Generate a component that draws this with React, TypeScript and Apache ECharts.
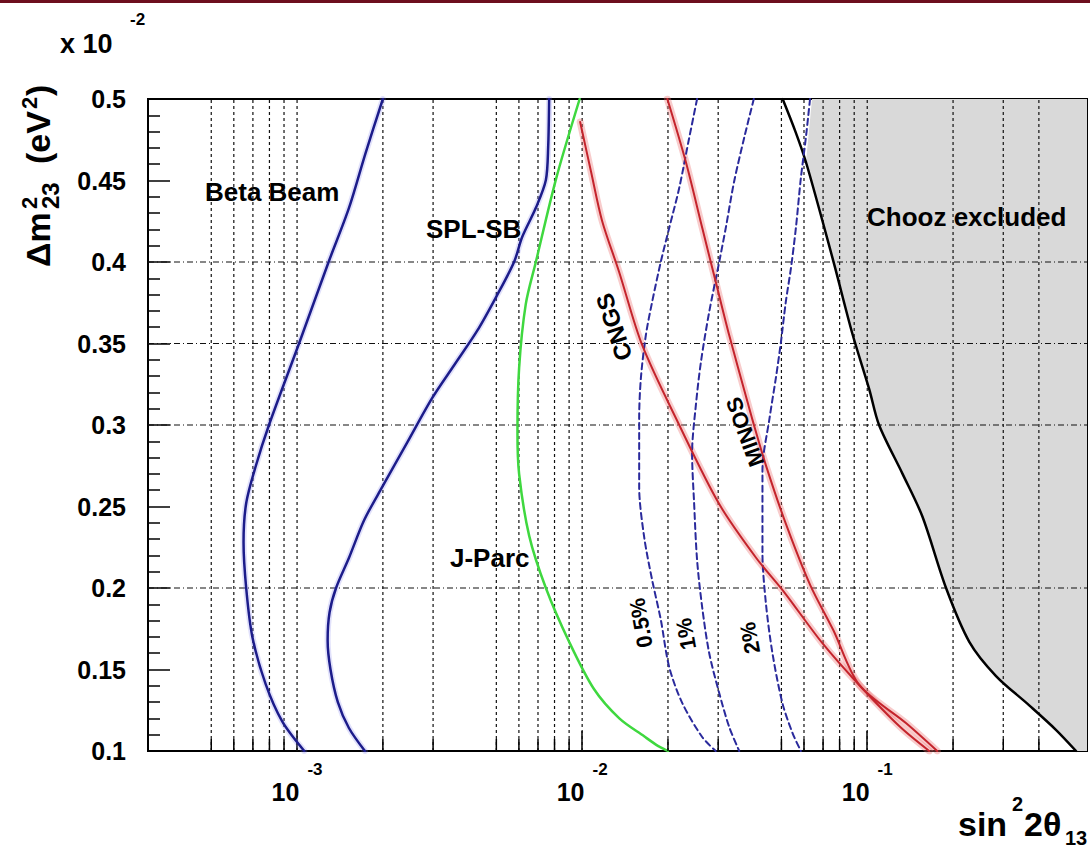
import React, { useEffect, useRef } from 'react';
import * as echarts from 'echarts';

const FONT = "'Liberation Sans', Arial, Helvetica, sans-serif";

// ---- axis ranges ----
const X_MIN = 3e-4;
const X_MAX = 0.59;
const Y_MIN = 0.1;
const Y_MAX = 0.5;

// ---- grid lines (sin^2 2theta13 and dm^2 values) ----
const gridLinesX = [5e-4, 6e-4, 7e-4, 8e-4, 9e-4, 1e-3, 2e-3, 3e-3, 5e-3, 6e-3, 7e-3, 8e-3, 9e-3, 1e-2, 2e-2, 3e-2, 5e-2, 6e-2, 7e-2, 8e-2, 9e-2, 1e-1, 2e-1, 3e-1, 4e-1];
const gridLinesY = [0.2, 0.3, 0.35, 0.4];
const minorTicksX = [5e-4, 6e-4, 7e-4, 8e-4, 9e-4, 2e-3, 3e-3, 5e-3, 6e-3, 7e-3, 8e-3, 9e-3, 2e-2, 3e-2, 5e-2, 6e-2, 7e-2, 8e-2, 9e-2, 2e-1, 3e-1, 4e-1];

// ---- curves ----
const betaBeamX = [2.0e-3, 1.74e-3, 1.52e-3, 1.29e-3, 1.016e-3, 7.97e-4, 7.17e-4, 6.63e-4, 6.49e-4, 6.63e-4, 6.97e-4, 7.76e-4, 8.88e-4, 1.06e-3];
const betaBeamY = [0.5, 0.467, 0.433, 0.4, 0.35, 0.3, 0.275, 0.252, 0.228, 0.2, 0.17, 0.141, 0.118, 0.1];

const splSbX = [7.66e-3, 7.6e-3, 7.46e-3, 6.9e-3, 6.16e-3, 5.77e-3, 4.99e-3, 4.28e-3, 3.56e-3, 2.98e-3, 2.43e-3, 1.99e-3, 1.72e-3, 1.52e-3, 1.37e-3, 1.3e-3, 1.28e-3, 1.31e-3, 1.39e-3, 1.52e-3, 1.73e-3];
const splSbY = [0.5, 0.4706, 0.4503, 0.4337, 0.4153, 0.4, 0.3785, 0.3577, 0.3368, 0.3166, 0.289, 0.262, 0.2417, 0.2184, 0.2, 0.185, 0.168, 0.15, 0.13, 0.1141, 0.1];

const jParcX = [9.8e-3, 8.1e-3, 6.88e-3, 6.34e-3, 6.01e-3, 5.93e-3, 6.01e-3, 6.52e-3, 7.46e-3, 9.0e-3, 1.1e-2, 1.35e-2, 1.65e-2, 1.85e-2, 2.0e-2];
const jParcY = [0.5, 0.451, 0.4, 0.374, 0.335, 0.296, 0.27, 0.232, 0.2, 0.167, 0.138, 0.12, 0.109, 0.103, 0.1];

const cngsX = [9.84e-3, 1.075e-2, 1.175e-2, 1.348e-2, 1.623e-2, 2.19e-2, 3.025e-2, 4.08e-2, 5.11e-2, 6.95e-2, 9.37e-2, 0.13, 0.165];
const cngsY = [0.4859, 0.4552, 0.4252, 0.3939, 0.3491, 0.3, 0.2515, 0.2184, 0.1975, 0.1663, 0.1405, 0.115, 0.1];

const minosX = [1.99e-2, 2.31e-2, 2.64e-2, 2.94e-2, 3.28e-2, 3.75e-2, 3.96e-2, 4.42e-2, 5.2e-2, 6.31e-2, 7.6e-2, 9.38e-2, 0.137, 0.176];
const minosY = [0.5, 0.4615, 0.4207, 0.388, 0.355, 0.318, 0.303, 0.2748, 0.2387, 0.2018, 0.1742, 0.1405, 0.117, 0.1];

const choozX = [5.05e-2, 5.6e-2, 6.09e-2, 6.97e-2, 7.7e-2, 8.87e-2, 0.1016, 0.11, 0.133, 0.156, 0.189, 0.228, 0.283, 0.37, 0.459, 0.54];
const choozY = [0.5, 0.48, 0.4615, 0.425, 0.397, 0.356, 0.322, 0.3, 0.27, 0.244, 0.2, 0.167, 0.146, 0.128, 0.113, 0.1];

const choozFillX = [6.4e-2, 6.1e-2, 6.97e-2, 7.7e-2, 8.87e-2, 0.1016, 0.11, 0.133, 0.156, 0.189, 0.228, 0.283, 0.37, 0.459, 0.54, 0.59, 0.59];
const choozFillY = [0.5, 0.4615, 0.425, 0.397, 0.356, 0.322, 0.3, 0.27, 0.244, 0.2, 0.167, 0.146, 0.128, 0.113, 0.1, 0.1, 0.5];

const sys05X = [2.53e-2, 2.373e-2, 2.19e-2, 2.02e-2, 1.888e-2, 1.76e-2, 1.673e-2, 1.607e-2, 1.585e-2, 1.585e-2, 1.65e-2, 1.76e-2, 1.888e-2, 2.02e-2, 2.245e-2, 2.636e-2, 2.94e-2];
const sys05Y = [0.5, 0.476, 0.4454, 0.4209, 0.4002, 0.3755, 0.3552, 0.3288, 0.3043, 0.262, 0.2313, 0.2049, 0.1804, 0.1515, 0.1294, 0.1086, 0.1];

const sys1X = [4.0e-2, 3.7e-2, 3.41e-2, 3.19e-2, 3.025e-2, 2.79e-2, 2.61e-2, 2.506e-2, 2.43e-2, 2.47e-2, 2.53e-2, 2.636e-2, 2.79e-2, 3.025e-2, 3.28e-2, 3.556e-2];
const sys1Y = [0.5, 0.4761, 0.4491, 0.4209, 0.4, 0.3693, 0.3387, 0.3123, 0.2828, 0.2521, 0.2172, 0.1883, 0.1601, 0.1356, 0.1147, 0.1];

const sys2X = [6.3e-2, 6.09e-2, 5.85e-2, 5.62e-2, 5.4e-2, 5.18e-2, 4.98e-2, 4.78e-2, 4.55e-2, 4.29e-2, 4.29e-2, 4.41e-2, 4.65e-2, 5.04e-2, 5.47e-2, 5.85e-2];
const sys2Y = [0.5, 0.4761, 0.4515, 0.4209, 0.3963, 0.3755, 0.3509, 0.3288, 0.305, 0.2724, 0.2215, 0.1908, 0.1601, 0.1294, 0.111, 0.1];

const zip = (xs: number[], ys: number[]) => xs.map((x, i) => [x, ys[i]]);

const NAVY = '#1c1c8a';
const RED = '#c4242c';
const GREEN = '#3fd83f';
const DASH_BLUE = '#2a2a9c';

function curve(name: string, xs: number[], ys: number[], color: string, width: number, type: any = 'solid', z = 6) {
  return {
    type: 'line',
    name,
    data: zip(xs, ys),
    showSymbol: false,
    symbol: 'none',
    smooth: 0.3,
    silent: true,
    clip: true,
    z,
    lineStyle: { color, width, type, cap: 'round', join: 'round' },
  };
}

function txt(text: string, x: number, y: number, size: number, extra: any = {}, rotation = 0) {
  const align = extra.align || 'left';
  return {
    type: 'text',
    x,
    y,
    rotation,
    silent: true,
    z: 100,
    style: {
      text,
      fontSize: size,
      fontWeight: 'bold',
      fontFamily: FONT,
      fill: '#000',
      align,
      textAlign: align,
      verticalAlign: 'middle',
      textVerticalAlign: 'middle',
    },
  };
}

function buildOption(): any {
  const xLabelFormatter = (v: number) => {
    const e = Math.log10(v);
    const r = Math.round(e);
    if (Math.abs(e - r) > 1e-6) return '';
    return `{b|10}{s|${r}}`;
  };

  return {
    animation: false,
    backgroundColor: '#ffffff',
    grid: {
      left: 148,
      top: 99,
      width: 939,
      height: 652,
      show: true,
      borderColor: '#000',
      borderWidth: 2,
      backgroundColor: 'transparent',
      containLabel: false,
      outerBoundsMode: 'none',
    },
    xAxis: {
      type: 'log',
      logBase: 10,
      min: X_MIN,
      max: X_MAX,
      axisLine: { show: true, onZero: false, lineStyle: { color: '#000', width: 2 } },
      axisTick: { show: true, inside: true, length: 20, lineStyle: { color: '#000', width: 1.5 } },
      minorTick: { show: false },
      splitLine: { show: false },
      axisLabel: {
        margin: 10,
        color: '#000',
        formatter: xLabelFormatter,
        rich: {
          b: { fontSize: 25, fontWeight: 'bold', fontFamily: FONT, color: '#000', verticalAlign: 'bottom' },
          s: { fontSize: 17, fontWeight: 'bold', fontFamily: FONT, color: '#000', verticalAlign: 'top', padding: [0, 0, 26, 8] },
        },
      },
    },
    yAxis: {
      type: 'value',
      min: Y_MIN,
      max: Y_MAX,
      interval: 0.05,
      axisLine: { show: true, lineStyle: { color: '#000', width: 2 } },
      axisTick: { show: true, inside: true, length: 22, lineStyle: { color: '#000', width: 1.5 } },
      minorTick: { show: true, splitNumber: 5, length: 12, lineStyle: { color: '#000', width: 1.5 } },
      splitLine: { show: false },
      axisLabel: {
        fontSize: 25,
        fontWeight: 'bold',
        fontFamily: FONT,
        color: '#000',
        margin: 22,
        formatter: (v: number) => String(Math.round(v * 100) / 100),
      },
    },
    series: [
      {
        type: 'custom',
        name: 'Chooz excluded',
        z: 1,
        silent: true,
        clip: true,
        data: [[0.1, 0.3]],
        renderItem: (params: any, api: any) => ({
          type: 'polygon',
          shape: { points: choozFillX.map((x, i) => api.coord([x, choozFillY[i]])) },
          style: { fill: '#d9d9d9' },
        }),
      },
      {
        type: 'custom',
        name: 'gridX',
        z: 2,
        silent: true,
        clip: false,
        data: gridLinesX.map((v) => [v, Y_MIN]),
        renderItem: (params: any, api: any) => {
          const x = api.value(0);
          const p1 = api.coord([x, Y_MIN]);
          const p2 = api.coord([x, Y_MAX]);
          return {
            type: 'line',
            shape: { x1: p1[0], y1: p1[1], x2: p2[0], y2: p2[1] },
            style: { stroke: '#111', lineWidth: 1.2, lineDash: [3, 3] },
          };
        },
      },
      {
        type: 'custom',
        name: 'gridY',
        z: 2,
        silent: true,
        clip: false,
        data: gridLinesY.map((v) => [X_MIN, v]),
        renderItem: (params: any, api: any) => {
          const y = api.value(1);
          const p1 = api.coord([X_MIN, y]);
          const p2 = api.coord([X_MAX, y]);
          return {
            type: 'line',
            shape: { x1: p1[0], y1: p1[1], x2: p2[0], y2: p2[1] },
            style: { stroke: '#111', lineWidth: 1.2, lineDash: [6, 3, 1, 3] },
          };
        },
      },
      {
        type: 'custom',
        name: 'minorTicksX',
        z: 8,
        silent: true,
        clip: false,
        data: minorTicksX.map((v) => [v, Y_MIN]),
        renderItem: (params: any, api: any) => {
          const p = api.coord([api.value(0), Y_MIN]);
          return {
            type: 'line',
            shape: { x1: p[0], y1: p[1], x2: p[0], y2: p[1] - 12 },
            style: { stroke: '#000', lineWidth: 1.5 },
          };
        },
      },
      curve('CNGS halo', cngsX, cngsY, 'rgba(236,110,110,0.35)', 7, 'solid', 4),
      curve('MINOS halo', minosX, minosY, 'rgba(236,110,110,0.35)', 7, 'solid', 4),
      curve('Beta Beam halo', betaBeamX, betaBeamY, 'rgba(120,120,235,0.22)', 6, 'solid', 4),
      curve('SPL-SB halo', splSbX, splSbY, 'rgba(120,120,235,0.22)', 6, 'solid', 4),
      curve('Chooz', choozX, choozY, '#000', 2.5),
      curve('0.5%', sys05X, sys05Y, DASH_BLUE, 2, [6, 4]),
      curve('1%', sys1X, sys1Y, DASH_BLUE, 2, [6, 4]),
      curve('2%', sys2X, sys2Y, DASH_BLUE, 2, [6, 4]),
      curve('Beta Beam', betaBeamX, betaBeamY, NAVY, 2.5),
      curve('SPL-SB', splSbX, splSbY, NAVY, 2.5),
      curve('J-Parc', jParcX, jParcY, GREEN, 2.5),
      curve('CNGS', cngsX, cngsY, RED, 2),
      curve('MINOS', minosX, minosY, RED, 2),
    ],
    graphic: [
      { type: 'rect', silent: true, z: 100, shape: { x: 0, y: 0, width: 1090, height: 3 }, style: { fill: '#6d0f1e' } },
      // multiplier
      txt('x 10', 60, 44, 27),
      txt('-2', 130, 19, 17),
      // y-axis title (rotated group)
      {
        type: 'group',
        x: 0,
        y: 0,
        rotation: Math.PI / 2,
        silent: true,
        children: [
          txt('Δm', -267, 38, 34),
          txt('2', -209, 29, 22),
          txt('23', -209, 50, 24),
          txt('(eV', -164, 38, 34),
          txt('2', -109, 29, 22),
          txt(')', -96, 38, 34),
        ],
      },
      // x-axis title
      txt('sin', 958, 824, 34),
      txt('2', 1012, 804, 20),
      txt('2θ', 1024, 824, 34),
      txt('13', 1065, 838, 20),
      // annotations
      txt('Beta Beam', 205, 192, 26),
      txt('SPL-SB', 426, 229, 26),
      txt('J-Parc', 450, 558, 26),
      txt('Chooz excluded', 867, 217, 26),
      txt('CNGS', 614, 327, 24, { align: 'center' }, 1.885),
      txt('MINOS', 745, 432, 22, { align: 'center' }, 1.92),
      txt('0.5%', 641, 623, 22, { align: 'center' }, 1.75),
      txt('1%', 686, 634, 22, { align: 'center' }, 1.75),
      txt('2%', 750, 638, 22, { align: 'center' }, 1.75),
    ],
  };
}

export default function App() {
  const ref = useRef<HTMLDivElement>(null);
  useEffect(() => {
    document.body.style.margin = '0';
    const chart = echarts.init(ref.current as HTMLDivElement, null, { renderer: 'svg' });
    chart.setOption(buildOption());
    return () => chart.dispose();
  }, []);
  return <div ref={ref} style={{ width: 1090, height: 854, background: '#fff' }} />;
}
